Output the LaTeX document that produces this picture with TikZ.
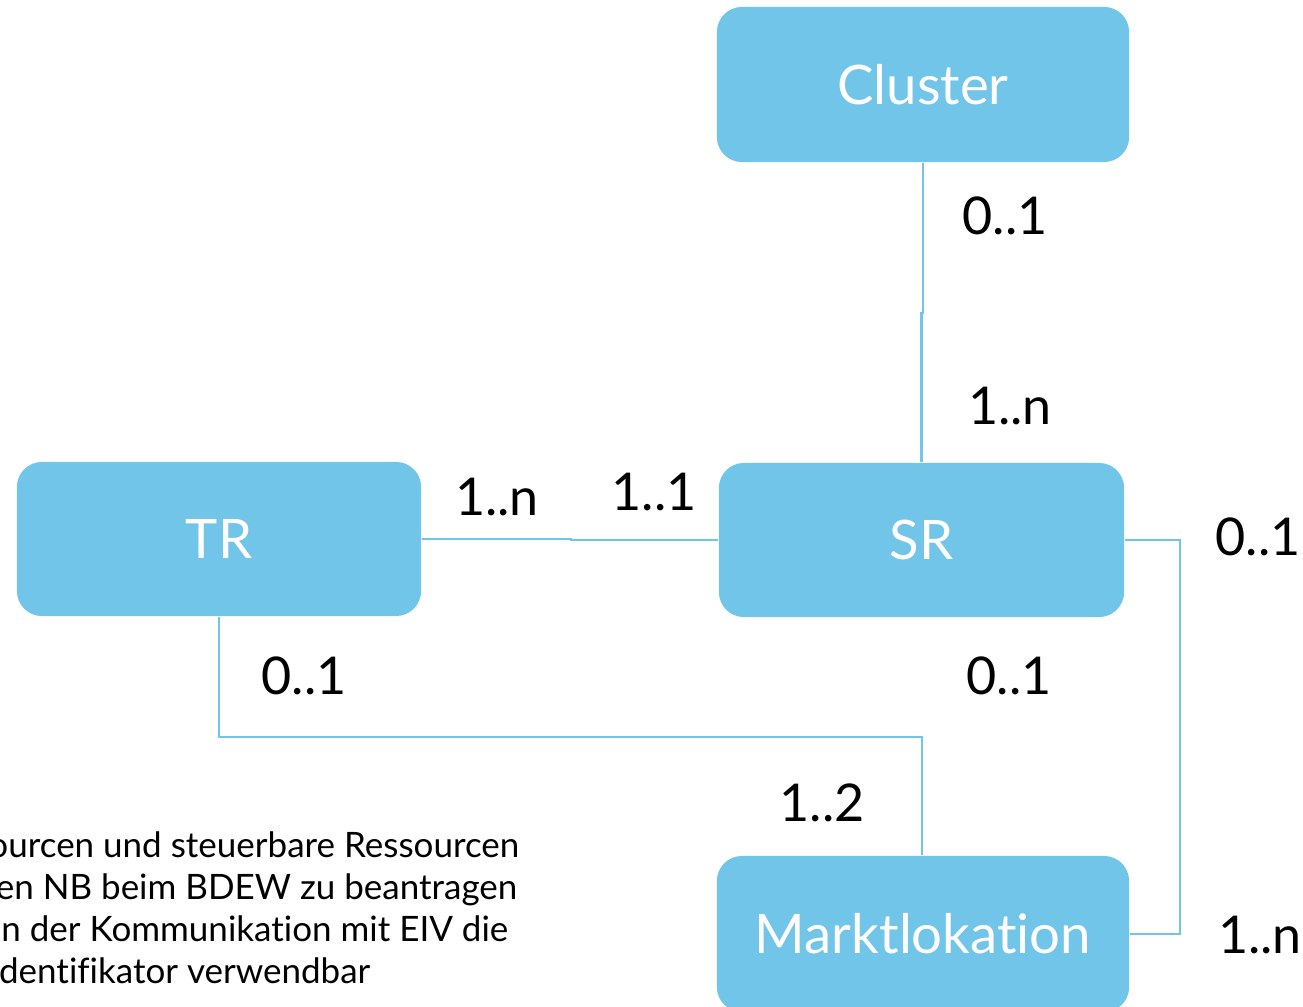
\documentclass[tikz,border=0pt]{standalone}
\usepackage{fontspec}
\setmainfont{Lato}[Ligatures={NoCommon}]
\definecolor{boxblue}{HTML}{71C5E8}
\begin{document}
\begin{tikzpicture}[x=0.01cm,y=-0.01cm,
  entity/.style={fill=boxblue, draw=none, rounded corners=0.25cm, text=white,
    font=\fontsize{15.5}{18}\selectfont, inner sep=0pt},
  link/.style={draw=boxblue, line width=0.6pt},
  mult/.style={font=\fontsize{14.8}{18}\selectfont, inner sep=0pt},
  note/.style={font=\fontsize{9.95}{12}\selectfont, inner sep=0pt, anchor=base east}]
\clip (0,0) rectangle (1303,1006);
\fill[white] (0,0) rectangle (1303,1006);

% entities
\node[entity, minimum width=4.12cm, minimum height=1.55cm] (cl) at (923,84.5) {Cluster};
\node[entity, minimum width=4.04cm, minimum height=1.54cm] (tr) at (219,539) {TR};
\node[entity, minimum width=4.05cm, minimum height=1.54cm] (sr) at (921.5,540) {SR};
\node[entity, minimum width=4.12cm, minimum height=1.56cm] (ml) at (923,934) {Marktlokation};

% associations
\draw[link] (cl.south) -- ++(0,150) -| (sr.north);
\draw[link] (tr.east) -- ++(149,0) |- (sr.west);
\draw[link] (tr.south) |- ++(703,120) coordinate (bend) -- (bend |- ml.north);
\draw[link] (sr.east) -- ++(55,0) |- (ml.east);

% multiplicities
\node[mult] (m1) at (1005,216) {0..1};
\node[mult] (m2) at (1010,406) {1..n};
\node[mult] (m3) at (497,497) {1..n};
\node[mult] (m4) at (654,492) {1..1};
\node[mult] (m5) at (1258,537) {0..1};
\node[mult] (m6) at (304,676) {0..1};
\node[mult] (m7) at (1009,676) {0..1};
\node[mult] (m8) at (822,803) {1..2};
\node[mult] (m9) at (1260,935) {1..n};

% explanatory note
\node[note] (n1) at (520,857) {ourcen und steuerbare Ressourcen};
\node[note] (n2) at (518,899) {den NB beim BDEW zu beantragen};
\node[note] (n3) at (509,941) {in der Kommunikation mit EIV die};
\node[note] (n4) at (371,983) {Identifikator verwendbar};
\end{tikzpicture}
\end{document}
